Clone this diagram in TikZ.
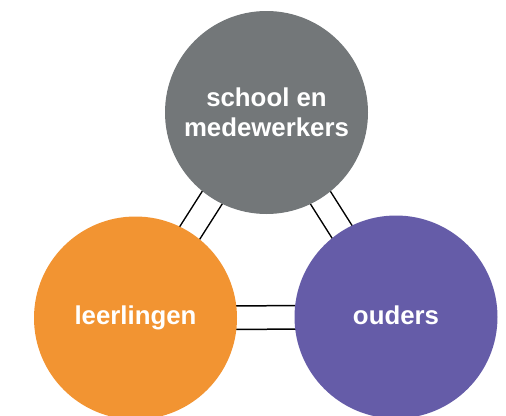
\documentclass[tikz,border=0pt]{standalone}
\usepackage{fontspec}
\setmainfont{Liberation Sans}
\usetikzlibrary{backgrounds}
\definecolor{schoolgray}{HTML}{737779}
\definecolor{pupilorange}{HTML}{F29432}
\definecolor{parentpurple}{HTML}{655CA8}
\tikzset{
  party/.style={circle, minimum size=203pt, inner sep=0pt, text=white,
    align=center, font=\fontsize{25.8}{30}\selectfont\bfseries},
  link/.style={draw=black, line width=1.5pt, double=white, double distance=22pt}
}
\begin{document}
\begin{tikzpicture}[x=1pt,y=-1pt]
  \useasboundingbox (0,0) rectangle (506,415);
  \node[party, fill=schoolgray] (school) at (266.5,112.5) {school en\\medewerkers};
  \node[party, fill=pupilorange] (leerlingen) at (135.5,318) {\raisebox{3pt}{leerlingen}};
  \node[party, fill=parentpurple] (ouders) at (396,317) {\raisebox{4pt}{ouders}};
  \begin{scope}[on background layer]
    \draw[link] (school.center) -- (leerlingen.center);
    \draw[link] (school.center) -- (ouders.center);
    \draw[link] (leerlingen.center) -- (ouders.center);
  \end{scope}
\end{tikzpicture}
\end{document}
